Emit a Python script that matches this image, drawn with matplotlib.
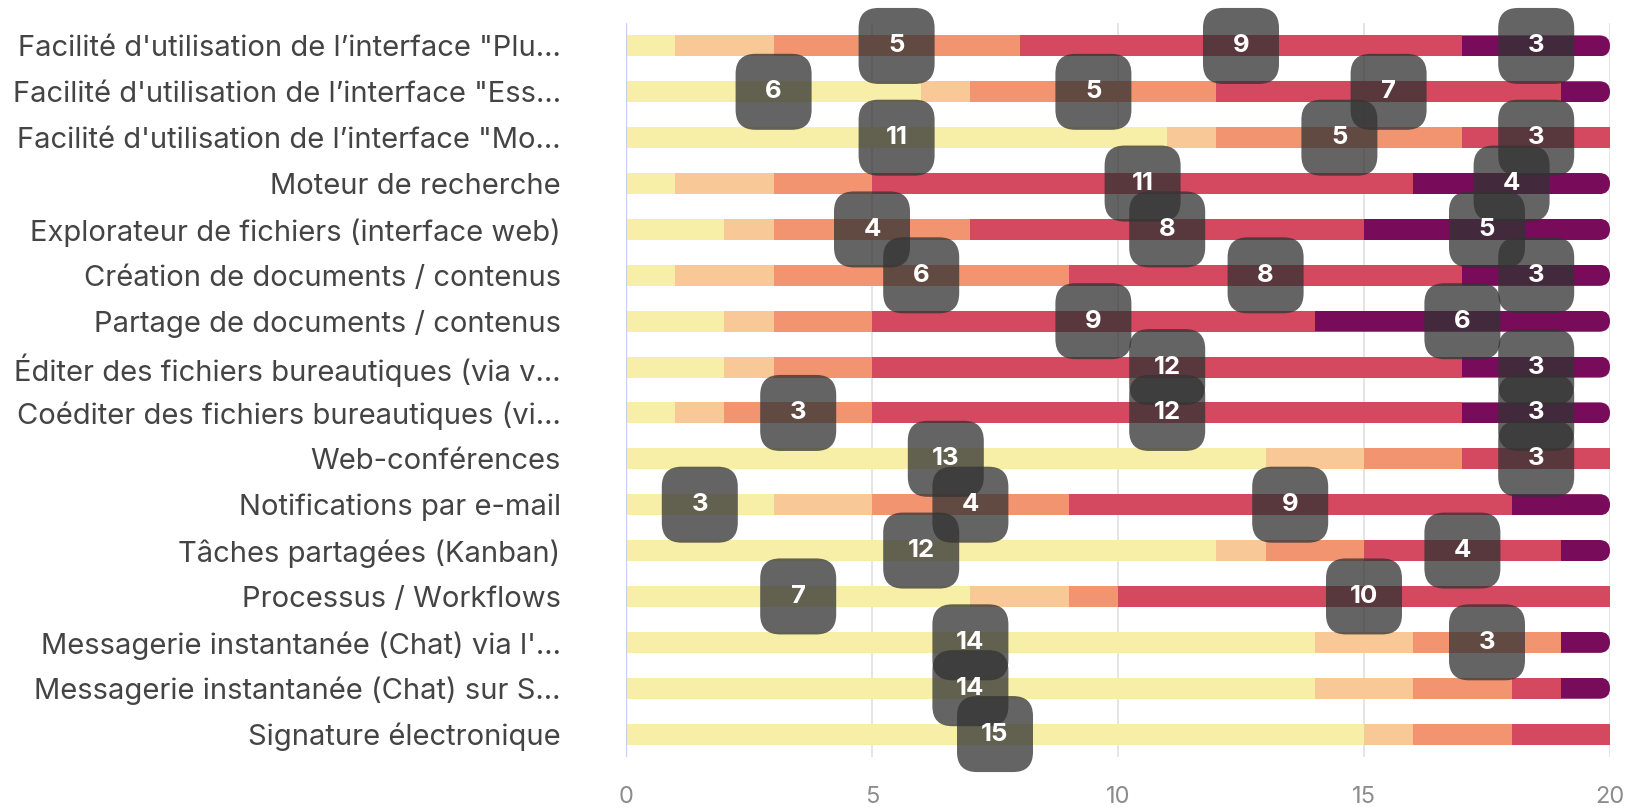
import matplotlib
matplotlib.use("Agg")
import matplotlib.pyplot as plt
from matplotlib.patches import FancyBboxPatch
import numpy as np

plt.rcParams['font.family'] = ['Inter', 'DejaVu Sans']

categories = [
    "Facilité d'utilisation de l’interface \"Plu...",
    "Facilité d'utilisation de l’interface \"Ess...",
    "Facilité d'utilisation de l’interface \"Mo...",
    "Moteur de recherche",
    "Explorateur de fichiers (interface web)",
    "Création de documents / contenus",
    "Partage de documents / contenus",
    "Éditer des fichiers bureautiques (via v...",
    "Coéditer des fichiers bureautiques (vi...",
    "Web-conférences",
    "Notifications par e-mail",
    "Tâches partagées (Kanban)",
    "Processus / Workflows",
    "Messagerie instantanée (Chat) via l'...",
    "Messagerie instantanée (Chat) sur S...",
    "Signature électronique",
]

s1 = [1, 6, 11, 1, 2, 1, 2, 2, 1, 13, 3, 12, 7, 14, 14, 15]
s2 = [2, 1, 1, 2, 1, 2, 1, 1, 1, 2, 2, 1, 2, 2, 2, 1]
s3 = [5, 5, 5, 2, 4, 6, 2, 2, 3, 2, 4, 2, 1, 3, 2, 2]
s4 = [9, 7, 3, 11, 8, 8, 9, 12, 12, 3, 9, 4, 10, 0, 1, 2]
s5 = [3, 1, 0, 4, 5, 3, 6, 3, 3, 0, 2, 1, 0, 1, 1, 0]

series = [s1, s2, s3, s4, s5]
colors = ["#f7eea7", "#f8c896", "#f29470", "#d4495f", "#780b5a"]
xticks = [0, 5, 10, 15, 20]

W, H = 16.38, 8.08
fig = plt.figure(figsize=(W, H), dpi=100)
ax = fig.add_axes([626 / 1638, 51 / 808, (1610 - 626) / 1638, (785 - 51) / 808])

y = np.arange(len(categories))
bar_h = 0.46
left = np.zeros(len(categories))
containers = []
for vals, c in zip(series, colors):
    v = np.array(vals, dtype=float)
    cont = ax.barh(y, v, left=left, height=bar_h, color=c, edgecolor='none', zorder=2)
    containers.append((cont, left.copy(), v))
    left = left + v

ax.set_xlim(0, 20)
ax.set_ylim(len(categories) - 0.5, -0.5)

# pixel scale
ax_w_px = (1610 - 626)
ax_h_px = (785 - 51)
px_per_x = ax_w_px / 20.0
px_per_y = ax_h_px / len(categories)
aspect = px_per_x / px_per_y

# rounded right ends for last series
cont, lft, v = containers[-1]
r_px = bar_h * px_per_y / 2
for i, p in enumerate(cont.patches):
    if v[i] <= 0:
        continue
    clip = FancyBboxPatch((lft[i] - 1, y[i] - bar_h / 2), v[i] + 1, bar_h,
                          boxstyle=f"round,pad=0,rounding_size={r_px / px_per_x}",
                          mutation_aspect=aspect, transform=ax.transData,
                          facecolor='none', edgecolor='none')
    p.set_clip_path(clip)

# labels
box_w = 76 / px_per_x
box_h = 76 / px_per_y
for cont, lft, v in containers:
    for i in range(len(categories)):
        if v[i] >= 3:
            cx = lft[i] + v[i] / 2
            cy = y[i]
            box = FancyBboxPatch((cx - box_w / 2, cy - box_h / 2), box_w, box_h,
                                 boxstyle=f"round,pad=0,rounding_size={20 / px_per_x}",
                                 mutation_aspect=aspect,
                                 facecolor=(0.2, 0.2, 0.2, 0.76), edgecolor='none',
                                 zorder=5, clip_on=False)
            ax.add_patch(box)
            ax.text(cx, cy, f"{int(v[i])}", ha='center', va='center', color='white',
                    fontsize=18.5, fontweight='bold', zorder=6, clip_on=False)

ax.set_yticks(y)
ax.set_yticklabels(categories, fontsize=21, color='#444444')
ax.set_xticks(xticks)
ax.set_xticklabels([str(t) for t in xticks], fontsize=17, color='#8c8c8c')
ax.tick_params(axis='both', length=0)
ax.tick_params(axis='y', pad=47)
ax.tick_params(axis='x', pad=21)

for s in ax.spines.values():
    s.set_visible(False)
for t in xticks[1:]:
    ax.axvline(t, color='#e3e3e3', lw=1.3, zorder=0)
ax.axvline(0, color='#c2d1f0', lw=1.6, zorder=3)

fig.savefig("out.png", dpi=100)
